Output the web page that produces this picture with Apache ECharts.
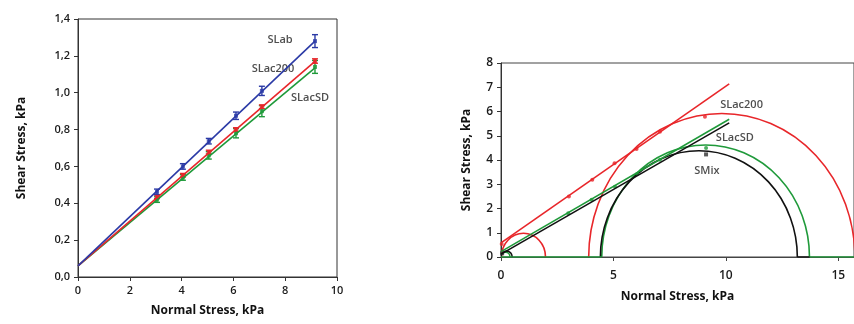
<!DOCTYPE html>
<html>
<head>
<meta charset="utf-8">
<script src="https://cdn.jsdelivr.net/npm/echarts@6/dist/echarts.min.js"></script>
<style>
  html, body { margin: 0; padding: 0; background: #fff; }
  #chart { width: 854px; height: 324px; }
</style>
</head>
<body>
<div id="chart"></div>
<script>
// left chart: shear vs normal stress, points with error bars
var normalStress = [3.05, 4.05, 5.05, 6.1, 7.1, 9.15];
var slab = [0.462, 0.600, 0.737, 0.875, 1.01, 1.28];
var slabErr = [0.015, 0.015, 0.015, 0.02, 0.025, 0.035];
var slac200 = [0.435, 0.552, 0.678, 0.80, 0.924, 1.172];
var slac200Err = [0.01, 0.01, 0.01, 0.01, 0.01, 0.012];
var slacsd = [0.42, 0.54, 0.66, 0.78, 0.90, 1.14];
var slacsdErr = [0.015, 0.015, 0.02, 0.025, 0.03, 0.035];
var fitEnds = [0, 9.15];
var slabFit = [0.06, 1.28];
var slac200Fit = [0.06, 1.17];
var slacsdFit = [0.06, 1.135];

// right chart: Mohr circles [centre, radius] and failure envelopes
var redCircles = [[1.0, 0.98], [9.82, 5.92]];
var greenCircles = [[0.2, 0.2], [9.1, 4.62]];
var blackCircles = [[0.25, 0.25], [8.8, 4.38]];
var envEnds = [0, 10.15];
var redEnv = [0.58, 7.14];
var greenEnv = [0.22, 5.68];
var blackEnv = [0.12, 5.53];
var redPts = [[0.03, 0.54], [3.02, 2.5], [4.06, 3.19], [5.05, 3.87], [6.03, 4.45], [7.07, 5.16], [9.07, 5.78]];
var greenPts = [[2.99, 1.8], [4.03, 2.36], [5.07, 2.9], [6.06, 3.43], [7.07, 4.01], [9.12, 4.49]];
var blackPts = [[0.05, 0.15], [9.12, 4.23]];
var greenBase = [[[0, 0], [4.48, 0]], [[13.72, 0], [15.7, 0]]];
var blackBase = [[13.18, 0], [13.72, 0]];

var RED = '#e8262a', BLUE = '#2b3aa6', GREEN = '#1f9a3a', BLACK = '#111';
var FONT = 'Open Sans';

function zip(xs, ys) {
  return xs.map(function (x, i) { return [x, ys[i]]; });
}

function errData(ys, errs) {
  return normalStress.map(function (x, i) { return [x, ys[i] - errs[i], ys[i] + errs[i]]; });
}

function errorBars(color) {
  return function (params, api) {
    var lo = api.coord([api.value(0), api.value(1)]);
    var hi = api.coord([api.value(0), api.value(2)]);
    var w = 3;
    var st = { stroke: color, lineWidth: 1.4 };
    return {
      type: 'group',
      children: [
        { type: 'line', shape: { x1: lo[0], y1: lo[1], x2: hi[0], y2: hi[1] }, style: st },
        { type: 'line', shape: { x1: lo[0] - w, y1: lo[1], x2: lo[0] + w, y2: lo[1] }, style: st },
        { type: 'line', shape: { x1: hi[0] - w, y1: hi[1], x2: hi[0] + w, y2: hi[1] }, style: st }
      ]
    };
  };
}

function semiCircle(color) {
  return function (params, api) {
    var c = api.coord([api.value(0), 0]);
    var s = api.size([api.value(1), api.value(1)]);
    var rx = s[0], ry = s[1];
    return {
      type: 'path',
      shape: {
        pathData: 'M' + (c[0] - rx) + ' ' + c[1] + ' A' + rx + ' ' + ry + ' 0 0 1 ' + (c[0] + rx) + ' ' + c[1]
      },
      style: { fill: 'none', stroke: color, lineWidth: 1.6 }
    };
  };
}

function fitLine(name, ends, ys, color, xi) {
  return {
    name: name, type: 'line', xAxisIndex: xi, yAxisIndex: xi,
    data: zip(ends, ys), symbol: 'none', silent: true,
    lineStyle: { color: color, width: 1.6 }
  };
}

function label(text, x, y, xi) {
  return {
    type: 'scatter', xAxisIndex: xi, yAxisIndex: xi, symbolSize: 0, silent: true,
    data: [[x, y]],
    label: { show: true, formatter: text, position: 'inside', color: '#222', fontFamily: FONT, fontSize: 11, fontWeight: 600 }
  };
}

var axisName = { color: '#111', fontFamily: FONT, fontSize: 12, fontWeight: 'bold' };
var tickLabel = { color: '#1a1a1a', fontFamily: FONT, fontSize: 11, fontWeight: 600 };

var myChart = echarts.init(document.getElementById('chart'));
var option = {
  animation: false,
  backgroundColor: '#fff',
  grid: [
    { left: 78, top: 19, width: 259, height: 258, show: true, borderColor: '#333', borderWidth: 1 },
    { left: 501, top: 63, right: 0, height: 194, show: true, borderColor: '#444', borderWidth: 1 }
  ],
  xAxis: [
    {
      gridIndex: 0, type: 'value', min: 0, max: 10, interval: 2,
      name: 'Normal Stress, kPa', nameLocation: 'middle', nameGap: 28, nameTextStyle: axisName,
      axisLine: { lineStyle: { color: '#333' } },
      axisTick: { inside: false, length: 4, lineStyle: { color: '#333' } },
      axisLabel: tickLabel, splitLine: { show: false }
    },
    {
      gridIndex: 1, type: 'value', min: 0, max: 15.7, interval: 5,
      name: 'Normal Stress, kPa', nameLocation: 'middle', nameGap: 34, nameTextStyle: axisName,
      axisLine: { lineStyle: { color: '#444' } },
      axisTick: { length: 4, lineStyle: { color: '#444' } },
      axisLabel: Object.assign({}, tickLabel, { fontSize: 12, margin: 13, showMaxLabel: false }),
      splitLine: { show: false }
    }
  ],
  yAxis: [
    {
      gridIndex: 0, type: 'value', min: 0, max: 1.4, interval: 0.2,
      name: 'Shear Stress, kPa', nameLocation: 'middle', nameGap: 50, nameTextStyle: axisName,
      axisLine: { show: true, lineStyle: { color: '#333' } },
      axisTick: { show: true, length: 4, lineStyle: { color: '#333' } },
      axisLabel: Object.assign({}, tickLabel, {
        formatter: function (v) { return v.toFixed(1).replace('.', ','); }
      }),
      splitLine: { show: false }
    },
    {
      gridIndex: 1, type: 'value', min: 0, max: 8, interval: 1,
      name: 'Shear Stress, kPa', nameLocation: 'middle', nameGap: 28, nameTextStyle: axisName,
      axisLine: { show: true, lineStyle: { color: '#333' } },
      axisTick: { show: true, length: 4, lineStyle: { color: '#333' } },
      axisLabel: Object.assign({}, tickLabel, { fontSize: 12 }),
      splitLine: { show: false }
    }
  ],
  series: [
    fitLine('SLacSD fit', fitEnds, slacsdFit, GREEN, 0),
    fitLine('SLac200 fit', fitEnds, slac200Fit, RED, 0),
    fitLine('SLab fit', fitEnds, slabFit, BLUE, 0),
    { type: 'custom', xAxisIndex: 0, yAxisIndex: 0, renderItem: errorBars(GREEN), data: errData(slacsd, slacsdErr), silent: true },
    { type: 'custom', xAxisIndex: 0, yAxisIndex: 0, renderItem: errorBars(RED), data: errData(slac200, slac200Err), silent: true },
    { type: 'custom', xAxisIndex: 0, yAxisIndex: 0, renderItem: errorBars(BLUE), data: errData(slab, slabErr), silent: true },
    { type: 'scatter', xAxisIndex: 0, yAxisIndex: 0, symbol: 'rect', symbolSize: 4, itemStyle: { color: GREEN }, data: zip(normalStress, slacsd) },
    { type: 'scatter', xAxisIndex: 0, yAxisIndex: 0, symbol: 'rect', symbolSize: 4, itemStyle: { color: RED }, data: zip(normalStress, slac200) },
    { type: 'scatter', xAxisIndex: 0, yAxisIndex: 0, symbol: 'rect', symbolSize: 4, itemStyle: { color: BLUE }, data: zip(normalStress, slab) },
    label('SLab', 7.8, 1.286, 0),
    label('SLac200', 7.53, 1.13, 0),
    label('SLacSD', 8.96, 0.973, 0),

    // right chart
    { type: 'line', xAxisIndex: 1, yAxisIndex: 1, data: greenBase[0], symbol: 'none', lineStyle: { color: GREEN, width: 1.6 } },
    { type: 'line', xAxisIndex: 1, yAxisIndex: 1, data: greenBase[1], symbol: 'none', lineStyle: { color: GREEN, width: 1.6 } },
    { type: 'line', xAxisIndex: 1, yAxisIndex: 1, data: blackBase, symbol: 'none', lineStyle: { color: BLACK, width: 1.6 } },
    { type: 'custom', xAxisIndex: 1, yAxisIndex: 1, renderItem: semiCircle(RED), data: redCircles, clip: true, silent: true },
    { type: 'custom', xAxisIndex: 1, yAxisIndex: 1, renderItem: semiCircle(GREEN), data: greenCircles, clip: true, silent: true },
    { type: 'custom', xAxisIndex: 1, yAxisIndex: 1, renderItem: semiCircle(BLACK), data: blackCircles, clip: true, silent: true },
    fitLine('SLac200 env', envEnds, redEnv, RED, 1),
    fitLine('SMix env', envEnds, blackEnv, BLACK, 1),
    fitLine('SLacSD env', envEnds, greenEnv, GREEN, 1),
    { type: 'scatter', xAxisIndex: 1, yAxisIndex: 1, symbolSize: 4, itemStyle: { color: RED }, data: redPts },
    { type: 'scatter', xAxisIndex: 1, yAxisIndex: 1, symbolSize: 4, itemStyle: { color: GREEN }, data: greenPts },
    { type: 'scatter', xAxisIndex: 1, yAxisIndex: 1, symbol: 'rect', symbolSize: 4, itemStyle: { color: '#333' }, data: blackPts },
    label('SLac200', 10.7, 6.27, 1),
    label('SLacSD', 10.4, 4.9, 1),
    label('SMix', 9.16, 3.57, 1)
  ]
};
option && myChart.setOption(option);
window.addEventListener('resize', () => {
  myChart.resize();
});
</script>
</body>
</html>
